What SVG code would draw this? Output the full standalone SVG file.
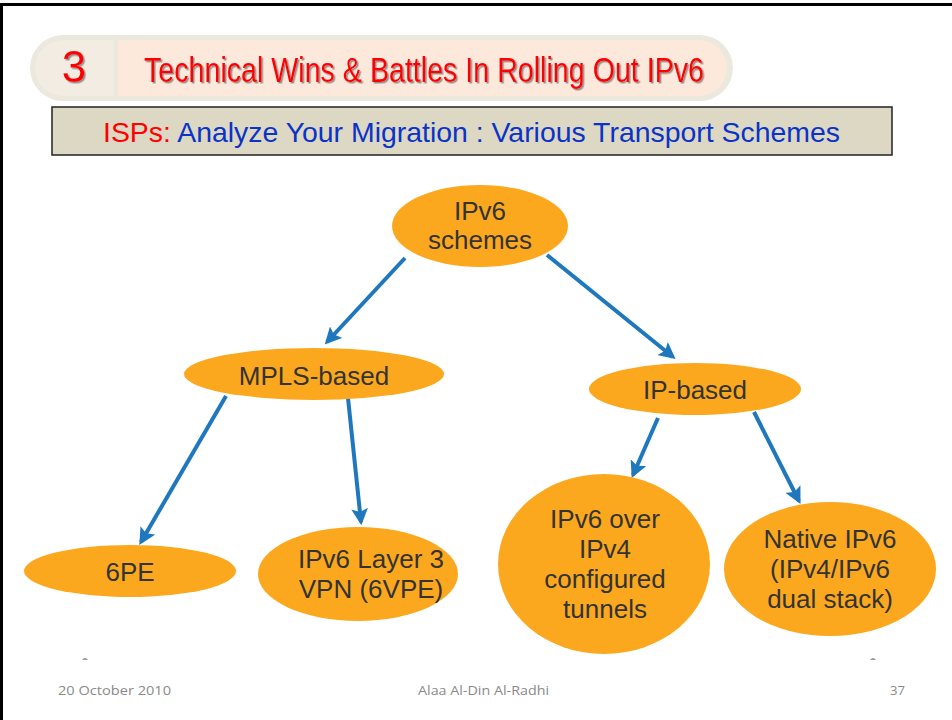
<svg xmlns="http://www.w3.org/2000/svg" width="952" height="720" viewBox="0 0 952 720">
  <defs>
    <style>
      .node { fill: #fba81f; }
      .lbl { font-family: "Liberation Sans", Arial, sans-serif; font-size: 26px; fill: #333333; text-anchor: middle; }
      .edge { stroke: #1f78bd; stroke-width: 4; fill: none; marker-end: url(#arrow); }
      .foot { font-family: "Open Sans", "Liberation Sans", sans-serif; font-size: 13px; fill: #8a8a8a; }
    </style>
    <marker id="arrow" viewBox="0 0 10 10" refX="8" refY="5" markerWidth="4.2" markerHeight="4.2" orient="auto" markerUnits="strokeWidth">
      <path d="M0,0 L10,5 L0,10 L2,5 Z" fill="#1f78bd"/>
    </marker>
    <filter id="shadow" x="-5%" y="-20%" width="110%" height="140%">
      <feDropShadow dx="1.5" dy="1.5" stdDeviation="0.6" flood-color="#777777" flood-opacity="0.8"/>
    </filter>
  </defs>

  <!-- page -->
  <rect x="0" y="0" width="952" height="720" fill="#ffffff"/>
  <rect x="0" y="3" width="952" height="3" fill="#000000"/>
  <rect x="0" y="3" width="3" height="717" fill="#000000"/>

  <!-- section banner -->
  <g id="banner">
    <rect x="30" y="35" width="703" height="66" rx="33" fill="#ebe8dd"/>
    <rect x="117" y="40" width="610" height="56" rx="28" fill="#fde8dc"/>
    <rect x="117" y="40" width="40" height="56" fill="#fde8dc"/>
    <path d="M114,40 H63 A28,28 0 0 0 63,96 H114 Z" fill="#f2ece3"/>
    <rect x="114" y="38" width="4" height="60" fill="#ebe8dd"/>
    <text x="74" y="82" font-family="Liberation Sans, Arial, sans-serif" font-size="44" fill="#ff0000" text-anchor="middle" filter="url(#shadow)">3</text>
    <text x="144" y="82" font-family="Liberation Sans, Arial, sans-serif" font-size="35" fill="#ff0000" textLength="560" lengthAdjust="spacingAndGlyphs" filter="url(#shadow)">Technical Wins &amp; Battles In Rolling Out IPv6</text>
  </g>

  <!-- subtitle -->
  <g id="subtitle">
    <rect x="52" y="107" width="840" height="48" fill="#ddd8c3" stroke="#222222" stroke-width="1.5"/>
    <text x="103" y="142" font-family="Liberation Sans, Arial, sans-serif" font-size="28" textLength="737" lengthAdjust="spacingAndGlyphs"><tspan fill="#ff0000">ISPs: </tspan><tspan fill="#0a33c8">Analyze Your Migration : Various Transport Schemes</tspan></text>
  </g>

  <!-- connectors -->
  <g id="connectors">
    <line class="edge" x1="405" y1="258" x2="327" y2="342"/>
    <line class="edge" x1="547" y1="255" x2="673" y2="357"/>
    <line class="edge" x1="226" y1="396" x2="141" y2="542"/>
    <line class="edge" x1="348" y1="398" x2="361" y2="522"/>
    <line class="edge" x1="658" y1="418" x2="633" y2="475"/>
    <line class="edge" x1="754" y1="412" x2="799" y2="501"/>
  </g>

  <!-- nodes -->
  <g id="n-root">
    <ellipse class="node" cx="480" cy="226" rx="88" ry="41"/>
    <text class="lbl" x="480" y="220">IPv6</text>
    <text class="lbl" x="480" y="249">schemes</text>
  </g>
  <g id="n-mpls">
    <ellipse class="node" cx="314" cy="374" rx="130" ry="26"/>
    <text class="lbl" x="314" y="385">MPLS-based</text>
  </g>
  <g id="n-ip">
    <ellipse class="node" cx="695" cy="389" rx="106" ry="26"/>
    <text class="lbl" x="695" y="399">IP-based</text>
  </g>
  <g id="n-6pe">
    <ellipse class="node" cx="130" cy="571" rx="106" ry="26"/>
    <text class="lbl" x="130" y="581">6PE</text>
  </g>
  <g id="n-6vpe">
    <ellipse class="node" cx="358" cy="574" rx="100" ry="47"/>
    <text class="lbl" x="371" y="568">IPv6 Layer 3</text>
    <text class="lbl" x="371" y="598">VPN (6VPE)</text>
  </g>
  <g id="n-tunnel">
    <ellipse class="node" cx="604" cy="564" rx="106" ry="90"/>
    <text class="lbl" x="605" y="528">IPv6 over</text>
    <text class="lbl" x="605" y="558">IPv4</text>
    <text class="lbl" x="605" y="588">configured</text>
    <text class="lbl" x="605" y="618">tunnels</text>
  </g>
  <g id="n-native">
    <ellipse class="node" cx="830" cy="569" rx="106" ry="67"/>
    <text class="lbl" x="830" y="548">Native IPv6</text>
    <text class="lbl" x="830" y="578">(IPv4/IPv6</text>
    <text class="lbl" x="830" y="608">dual stack)</text>
  </g>

  <!-- footer -->
  <g id="footer">
    <path d="M82,660 Q85,656 88,660 Z" fill="#999999"/>
    <path d="M870,660 Q873,656 876,660 Z" fill="#999999"/>
    <text class="foot" x="58" y="695" textLength="113" lengthAdjust="spacingAndGlyphs">20 October 2010</text>
    <text class="foot" x="418" y="695" textLength="131" lengthAdjust="spacingAndGlyphs">Alaa Al-Din Al-Radhi</text>
    <text class="foot" x="890" y="695" textLength="15" lengthAdjust="spacingAndGlyphs">37</text>
  </g>
</svg>
